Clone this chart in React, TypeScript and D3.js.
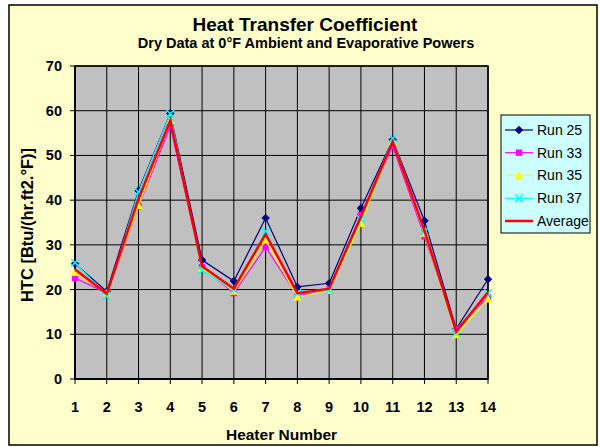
import React from "react";
import * as d3 from "d3";

const heaters = [1, 2, 3, 4, 5, 6, 7, 8, 9, 10, 11, 12, 13, 14];
const run25 = [25.8, 19.6, 42.1, 59.4, 26.6, 21.9, 36.0, 20.6, 21.4, 38.2, 53.5, 35.4, 11.2, 22.3];
const run33 = [22.6, 19.2, 38.6, 56.6, 25.0, 19.2, 29.5, 18.6, 20.0, 36.7, 52.1, 31.9, 11.2, 18.3];
const run35 = [23.8, 19.2, 38.8, 57.8, 24.8, 19.6, 31.1, 18.3, 19.8, 34.8, 53.1, 32.6, 9.9, 17.9];
const run37 = [26.0, 18.5, 41.8, 59.3, 24.3, 20.0, 33.0, 19.2, 19.8, 35.7, 53.8, 33.0, 10.3, 19.2];
const average = [24.5, 19.1, 40.3, 57.8, 25.2, 20.2, 32.4, 19.2, 20.2, 36.3, 53.1, 33.2, 10.6, 19.4];
const yTicks = [0, 10, 20, 30, 40, 50, 60, 70];

const series = [
  { name: "Run 25", values: run25, color: "#000080", marker: "diamond", width: 1.2 },
  { name: "Run 33", values: run33, color: "#FF00FF", marker: "square", width: 1.2 },
  { name: "Run 35", values: run35, color: "#FFFF00", marker: "triangle", width: 1.2 },
  { name: "Run 37", values: run37, color: "#00FFFF", marker: "x", width: 1.2 },
  { name: "Average", values: average, color: "#FF0000", marker: "none", width: 2.5 },
];

function Marker({ type, x, y, color }: { type: string; x: number; y: number; color: string }) {
  if (type === "diamond") {
    const s = 3.8;
    return <path d={`M${x},${y - s}L${x + s},${y}L${x},${y + s}L${x - s},${y}Z`} fill={color} stroke={color} strokeWidth={0.8} />;
  }
  if (type === "square") {
    const s = 3.2;
    return <rect x={x - s} y={y - s} width={2 * s} height={2 * s} fill={color} />;
  }
  if (type === "triangle") {
    const s = 4.3;
    return <path d={`M${x},${y - s}L${x + s},${y + s * 0.8}L${x - s},${y + s * 0.8}Z`} fill={color} />;
  }
  if (type === "x") {
    const s = 3.8;
    return (
      <path d={`M${x - s},${y - s}L${x + s},${y + s}M${x - s},${y + s}L${x + s},${y - s}`} stroke={color} strokeWidth={1.5} />
    );
  }
  return null;
}

export default function App() {
  const W = 600;
  const H = 447;
  const left = 75;
  const right = 488;
  const top = 66;
  const bottom = 379;
  const x = d3.scaleLinear().domain([1, 14]).range([left, right]);
  const y = d3.scaleLinear().domain([0, 70]).range([bottom, top]);
  const line = d3
    .line<number>()
    .x((_, i) => x(heaters[i]))
    .y((d) => y(d));
  const font = "Arial, 'Liberation Sans', sans-serif";

  const legendX = 501;
  const legendY = 115;
  const legendItems = [130, 152.7, 175.3, 198.3, 221];

  return (
    <svg width={W} height={H} style={{ position: "absolute", left: 0, top: 0 }} fontFamily={font}>
      <rect x={9} y={5} width={588} height={440} fill="#FFFFCC" stroke="#000" strokeWidth={1.5} />
      <text x={305} y={31} textAnchor="middle" fontSize={19} fontWeight="bold">
        Heat Transfer Coefficient
      </text>
      <text x={306} y={47.5} textAnchor="middle" fontSize={14.5} fontWeight="bold">
        Dry Data at 0°F Ambient and Evaporative Powers
      </text>
      <rect x={left} y={top} width={right - left} height={bottom - top} fill="#C0C0C0" />
      {yTicks.map((t) => (
        <line key={"h" + t} x1={left} x2={right} y1={y(t)} y2={y(t)} stroke="#000" strokeWidth={1} />
      ))}
      {heaters.map((h) => (
        <line key={"v" + h} x1={x(h)} x2={x(h)} y1={top} y2={bottom} stroke="#000" strokeWidth={1} />
      ))}
      <rect x={left} y={top} width={right - left} height={bottom - top} fill="none" stroke="#000" strokeWidth={1.5} />
      <line x1={left} x2={left} y1={top} y2={bottom} stroke="#000" strokeWidth={2} />
      <line x1={left} x2={right} y1={bottom} y2={bottom} stroke="#000" strokeWidth={2} />
      {yTicks.map((t) => (
        <g key={"yt" + t}>
          <line x1={left - 5} x2={left} y1={y(t)} y2={y(t)} stroke="#000" />
          <text x={62} y={y(t) + 5} textAnchor="end" fontSize={14.5} fontWeight="bold">
            {t}
          </text>
        </g>
      ))}
      {heaters.map((h) => (
        <g key={"xt" + h}>
          <line x1={x(h)} x2={x(h)} y1={bottom} y2={bottom + 5} stroke="#000" />
          <text x={x(h)} y={411.5} textAnchor="middle" fontSize={14.5} fontWeight="bold">
            {h}
          </text>
        </g>
      ))}
      <text x={(left + right) / 2} y={439.5} textAnchor="middle" fontSize={15.5} fontWeight="bold">
        Heater Number
      </text>
      <text
        transform={`translate(33, 225) rotate(-90)`}
        textAnchor="middle"
        fontSize={16.5}
        fontWeight="bold"
      >
        HTC [Btu/(hr.ft2.°F)]
      </text>
      {series.map((s) => (
        <g key={s.name}>
          <path d={line(s.values) || ""} fill="none" stroke={s.color} strokeWidth={s.width} />
          {s.values.map((v, i) => (
            <Marker key={i} type={s.marker} x={x(heaters[i])} y={y(v)} color={s.color} />
          ))}
        </g>
      ))}
      <rect x={legendX} y={legendY} width={89} height={118} fill="#CCFFFF" stroke="#000" strokeWidth={1} />
      {series.map((s, i) => (
        <g key={"lg" + s.name}>
          <line x1={505} x2={533} y1={legendItems[i]} y2={legendItems[i]} stroke={s.color} strokeWidth={s.width} />
          <Marker type={s.marker} x={519} y={legendItems[i]} color={s.color} />
          <text x={537} y={legendItems[i] + 5} fontSize={14}>
            {s.name}
          </text>
        </g>
      ))}
    </svg>
  );
}
